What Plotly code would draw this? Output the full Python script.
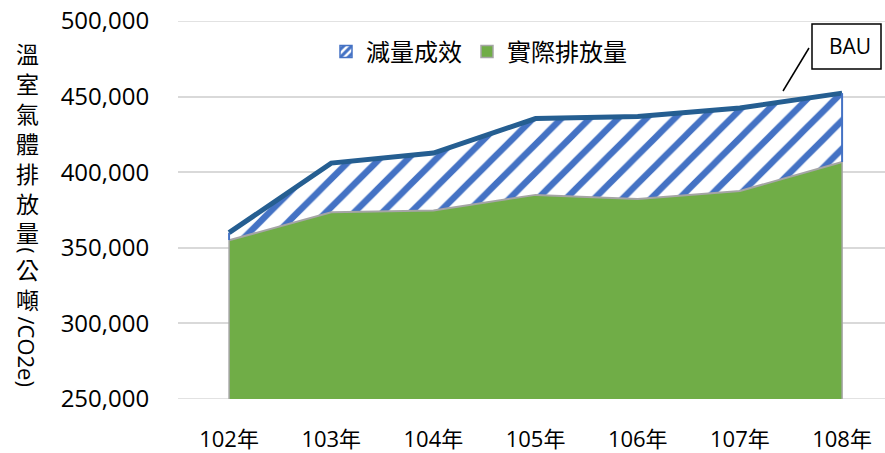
import plotly.graph_objects as go

# ---- data ----
categories = ['102年', '103年', '104年', '105年', '106年', '107年', '108年']
bau_values = [360000, 406000, 412700, 435500, 436800, 442500, 452300]
actual_values = [355000, 373500, 374700, 385000, 382300, 387600, 406700]
y_ticks = [250000, 300000, 350000, 400000, 450000, 500000]
y_tick_labels = ['250,000', '300,000', '350,000', '400,000', '450,000', '500,000']
series_names = ['減量成效', '實際排放量']
callout_text = 'BAU'
y_title_upright = '溫室氣體排放量'
y_title_unit = ['(', '公<br>噸', '/CO2e)']

# ---- layout helpers ----
W, H = 885, 453
L, R, T, B = 178, 0, 21, 54
PW, PH = W - L - R, H - T - B
def px(x):
    return (x - L) / PW
def py(y):
    return (H - B - y) / PH

FONT = "Open Sans, Noto Sans CJK TC, sans-serif"
CJK = "Noto Sans CJK TC, sans-serif"
GREEN = '#70AD47'
GREY = '#A5A5A5'
BLUE = '#4472C4'
DARKBLUE = '#255E91'
GRID = '#D9D9D9'

fig = go.Figure()

# actual emissions (green area)
fig.add_trace(go.Scatter(
    x=categories, y=actual_values, mode='lines',
    line=dict(color=GREY, width=2), fill='tozeroy', fillcolor=GREEN,
    showlegend=False, hoverinfo='skip'))
# reduction (hatched area) up to BAU line
fig.add_trace(go.Scatter(
    x=categories, y=bau_values, mode='lines',
    line=dict(color=DARKBLUE, width=5), fill='tonexty', fillcolor='white',
    fillpattern=dict(shape='/', fgcolor=BLUE, bgcolor='white', size=20, solidity=0.32,
                     fgopacity=1, fillmode='replace'),
    showlegend=False, hoverinfo='skip'))
# edges of the hatched area
for i in (0, -1):
    fig.add_trace(go.Scatter(
        x=[categories[i], categories[i]], y=[actual_values[i], bau_values[i]],
        mode='lines', line=dict(color=BLUE, width=2), showlegend=False, hoverinfo='skip'))
# edges of the green area
for i in (0, -1):
    fig.add_trace(go.Scatter(
        x=[categories[i], categories[i]], y=[y_ticks[0], actual_values[i]],
        mode='lines', line=dict(color=GREY, width=1.5), showlegend=False, hoverinfo='skip'))

# legend entries
fig.add_trace(go.Bar(
    x=[categories[0]], y=[None], name=series_names[0],
    marker=dict(color='white', line=dict(color=BLUE, width=1.5),
                pattern=dict(shape='/', fgcolor=BLUE, bgcolor='white', size=7, solidity=0.55,
                             fgopacity=1, fillmode='replace'))))
fig.add_trace(go.Bar(
    x=[categories[0]], y=[None], name=series_names[1],
    marker=dict(color=GREEN, line=dict(color=GREY, width=1.5))))

annotations = []
# y-axis title: upright CJK characters
x_title = px(27)
annotations.append(dict(text='<br>'.join(y_title_upright), x=x_title, y=py(142), xref='paper', yref='paper',
                        showarrow=False, font=dict(family=CJK, size=23, color='black'),
                        xanchor='center', yanchor='middle'))
unit_pos = [(250.5, 90, 20), (283.5, 0, 23), (351.5, 90, 22)]
for txt, (yy, ang, sz) in zip(y_title_unit, unit_pos):
    annotations.append(dict(text=txt, x=x_title, y=py(yy), xref='paper', yref='paper',
                            showarrow=False, textangle=ang,
                            font=dict(family=FONT if ang else CJK, size=sz, color='black'),
                            xanchor='center', yanchor='middle'))
# BAU callout
annotations.append(dict(text=callout_text, x=px(850), y=py(46), xref='paper', yref='paper',
                        showarrow=False, font=dict(family=FONT, size=21, color='black'),
                        xanchor='center', yanchor='middle'))

shapes = [
    dict(type='line', xref='paper', yref='y', x0=0, x1=1, y0=y_ticks[-1], y1=y_ticks[-1],
         line=dict(color=GRID, width=1.5), layer='below'),
    dict(type='line', xref='paper', yref='y', x0=0, x1=1, y0=y_ticks[0], y1=y_ticks[0],
         line=dict(color=GRID, width=1.5), layer='below'),
    dict(type='rect', xref='paper', yref='paper', x0=px(812), x1=px(881), y0=py(69), y1=py(24),
         line=dict(color='black', width=1.5), fillcolor='white', layer='above'),
    dict(type='line', xref='paper', yref='paper', x0=px(783), y0=py(91), x1=px(809), y1=py(48),
         line=dict(color='black', width=1.5), layer='above'),
]

fig.update_layout(
    width=W, height=H, margin=dict(l=L, r=R, t=T, b=B, autoexpand=False),
    paper_bgcolor='white', plot_bgcolor='white',
    font=dict(family=FONT, size=24, color='black'),
    showlegend=True,
    legend=dict(orientation='h', x=px(479), xanchor='center', y=py(52), yanchor='middle',
                bgcolor='rgba(0,0,0,0)', font=dict(family=CJK, size=24, color='black'),
                traceorder='normal', itemwidth=30, tracegroupgap=0),
    xaxis=dict(type='category', range=[-0.5, 6.42], showgrid=False, zeroline=False,
               showline=False, ticks='outside', ticklen=21, tickcolor='rgba(0,0,0,0)',
               tickfont=dict(family=FONT, size=22, color='black'), fixedrange=True,
               automargin=False),
    yaxis=dict(range=[y_ticks[0], y_ticks[-1]], tickvals=y_ticks, ticktext=y_tick_labels,
               showgrid=True, gridcolor=GRID, gridwidth=1.5, zeroline=False, showline=False,
               ticks='outside', ticklen=23, tickcolor='rgba(0,0,0,0)',
               tickfont=dict(family=FONT, size=24, color='black'), fixedrange=True,
               automargin=False),
    annotations=annotations, shapes=shapes,
)

fig.write_html("out.html", config={'displayModeBar': False},
               post_script="document.body.style.margin='0px';document.body.style.overflow='hidden';")
